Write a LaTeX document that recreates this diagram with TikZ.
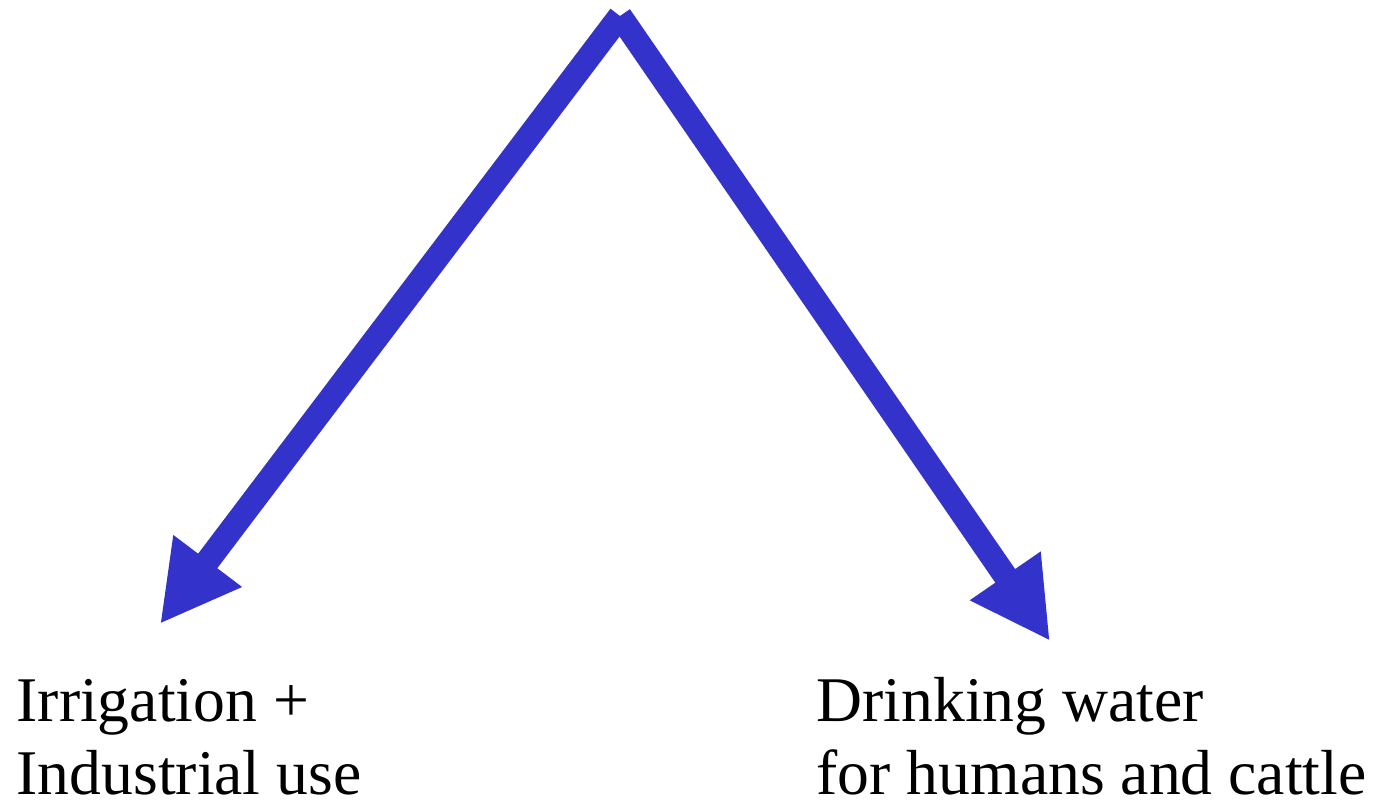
\documentclass[tikz,border=0pt]{standalone}
\usepackage{fontspec}
\setmainfont{Liberation Serif}
\usetikzlibrary{arrows.meta}
\definecolor{flowblue}{RGB}{51,51,204}

\begin{document}
\begin{tikzpicture}[x=0.01cm, y=-0.01cm,
    flow/.style={draw=flowblue, line width=0.24cm,
        -{Triangle[length=0.79cm, width=0.8cm]}},
    use/.style={anchor=base west, inner sep=0pt, align=left,
        font=\fontsize{18.1}{20.8}\selectfont}]
    \useasboundingbox (0,0) rectangle (1376,801);
    \coordinate (Source) at (620,16);
    \node[use] (Irrigation) at (16,795) {Irrigation +\\Industrial use};
    \node[use] (Drinking) at (816,795) {Drinking water\\for humans and cattle};
    \coordinate (IrrigationTip) at (160,624);
    \coordinate (DrinkingTip) at (1050,641);
    \draw[flow] (Source) -- (IrrigationTip);
    \draw[flow] (Source) -- (DrinkingTip);
\end{tikzpicture}
\end{document}
